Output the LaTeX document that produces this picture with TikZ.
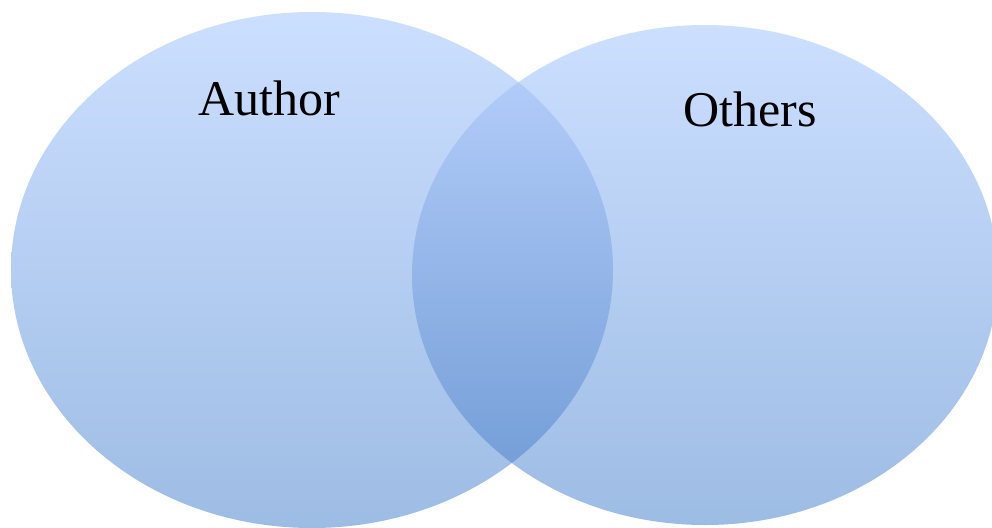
\documentclass[tikz,border=0pt]{standalone}
\usepackage{fontspec}
\setmainfont{Liberation Serif}
\definecolor{stop}{RGB}{204,223,255}
\definecolor{smid}{RGB}{186,208,243}
\definecolor{sbot}{RGB}{157,188,228}
\definecolor{itop}{RGB}{186,210,253}
\definecolor{imid}{RGB}{155,186,236}
\definecolor{ibot}{RGB}{108,152,211}
\tikzset{
  setfill/.style={top color=stop, middle color=smid, bottom color=sbot, draw=none},
  overlapfill/.style={top color=itop, middle color=imid, bottom color=ibot, draw=none},
  lbl/.style={anchor=base, font=\fontsize{50}{60}\selectfont, inner sep=0pt}
}
\begin{document}
\begin{tikzpicture}[x=1pt,y=-1pt]
\useasboundingbox (0,0) rectangle (992,527);
\shade[setfill] (312,270) ellipse [x radius=301, y radius=258];
\shade[setfill] (705,275) ellipse [x radius=293, y radius=250];
\begin{scope}
\clip (312,270) ellipse [x radius=301, y radius=258];
\shade[overlapfill] (705,275) ellipse [x radius=293, y radius=250];
\end{scope}
\node[lbl] (author) at (269,115) {Author};
\node[lbl] (others) at (750,126) {Others};
\end{tikzpicture}
\end{document}
